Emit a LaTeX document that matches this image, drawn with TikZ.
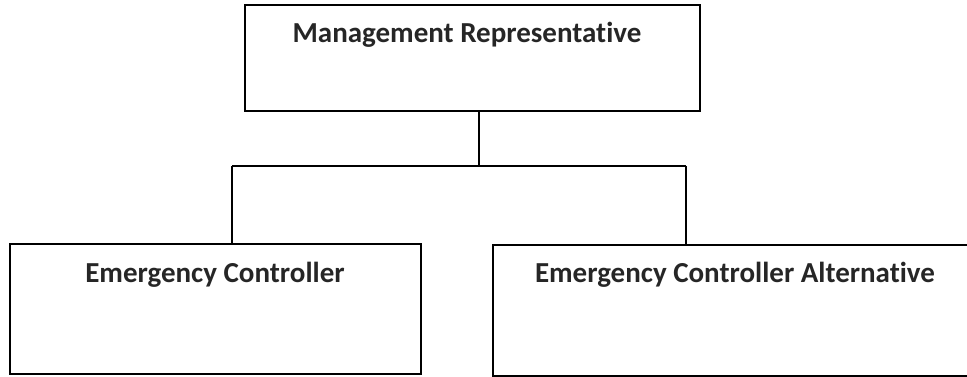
\documentclass[tikz,border=0pt]{standalone}
\usepackage{fontspec}
\setmainfont{Carlito}[Ligatures=NoCommon]
\begin{document}
\begin{tikzpicture}[x=1pt,y=1pt,
  orgbox/.style={draw=black, line width=2pt, rectangle, inner sep=0pt},
  orgtext/.style={font=\bfseries\fontsize{29}{34}\selectfont, text=black!85, anchor=base, inner sep=0pt},
  link/.style={draw=black, line width=1.6pt}]
\useasboundingbox (0,0) rectangle (967,377);
\clip (0,0) rectangle (967,377);
\node[orgbox, minimum width=455pt, minimum height=106pt] (top) at (472.5,319) {};
\node[orgbox, minimum width=411pt, minimum height=130pt] (left) at (215.5,68) {};
\node[orgbox, minimum width=484pt, minimum height=131pt] (right) at (735,66.5) {};
\node[orgtext] (ttop) at (467,334) {Management Representative};
\node[orgtext] (tleft) at (215,94) {Emergency Controller};
\node[orgtext] (tright) at (735,94) {Emergency Controller Alternative};
\coordinate (j) at (479,211);
\coordinate (jl) at (232,211);
\coordinate (jr) at (686,211);
\draw[link] (j |- top.south) -- (j);
\draw[link] (jl) -- (jr);
\draw[link] (jl) -- (jl |- left.north);
\draw[link] (jr) -- (jr |- right.north);
\end{tikzpicture}
\end{document}
